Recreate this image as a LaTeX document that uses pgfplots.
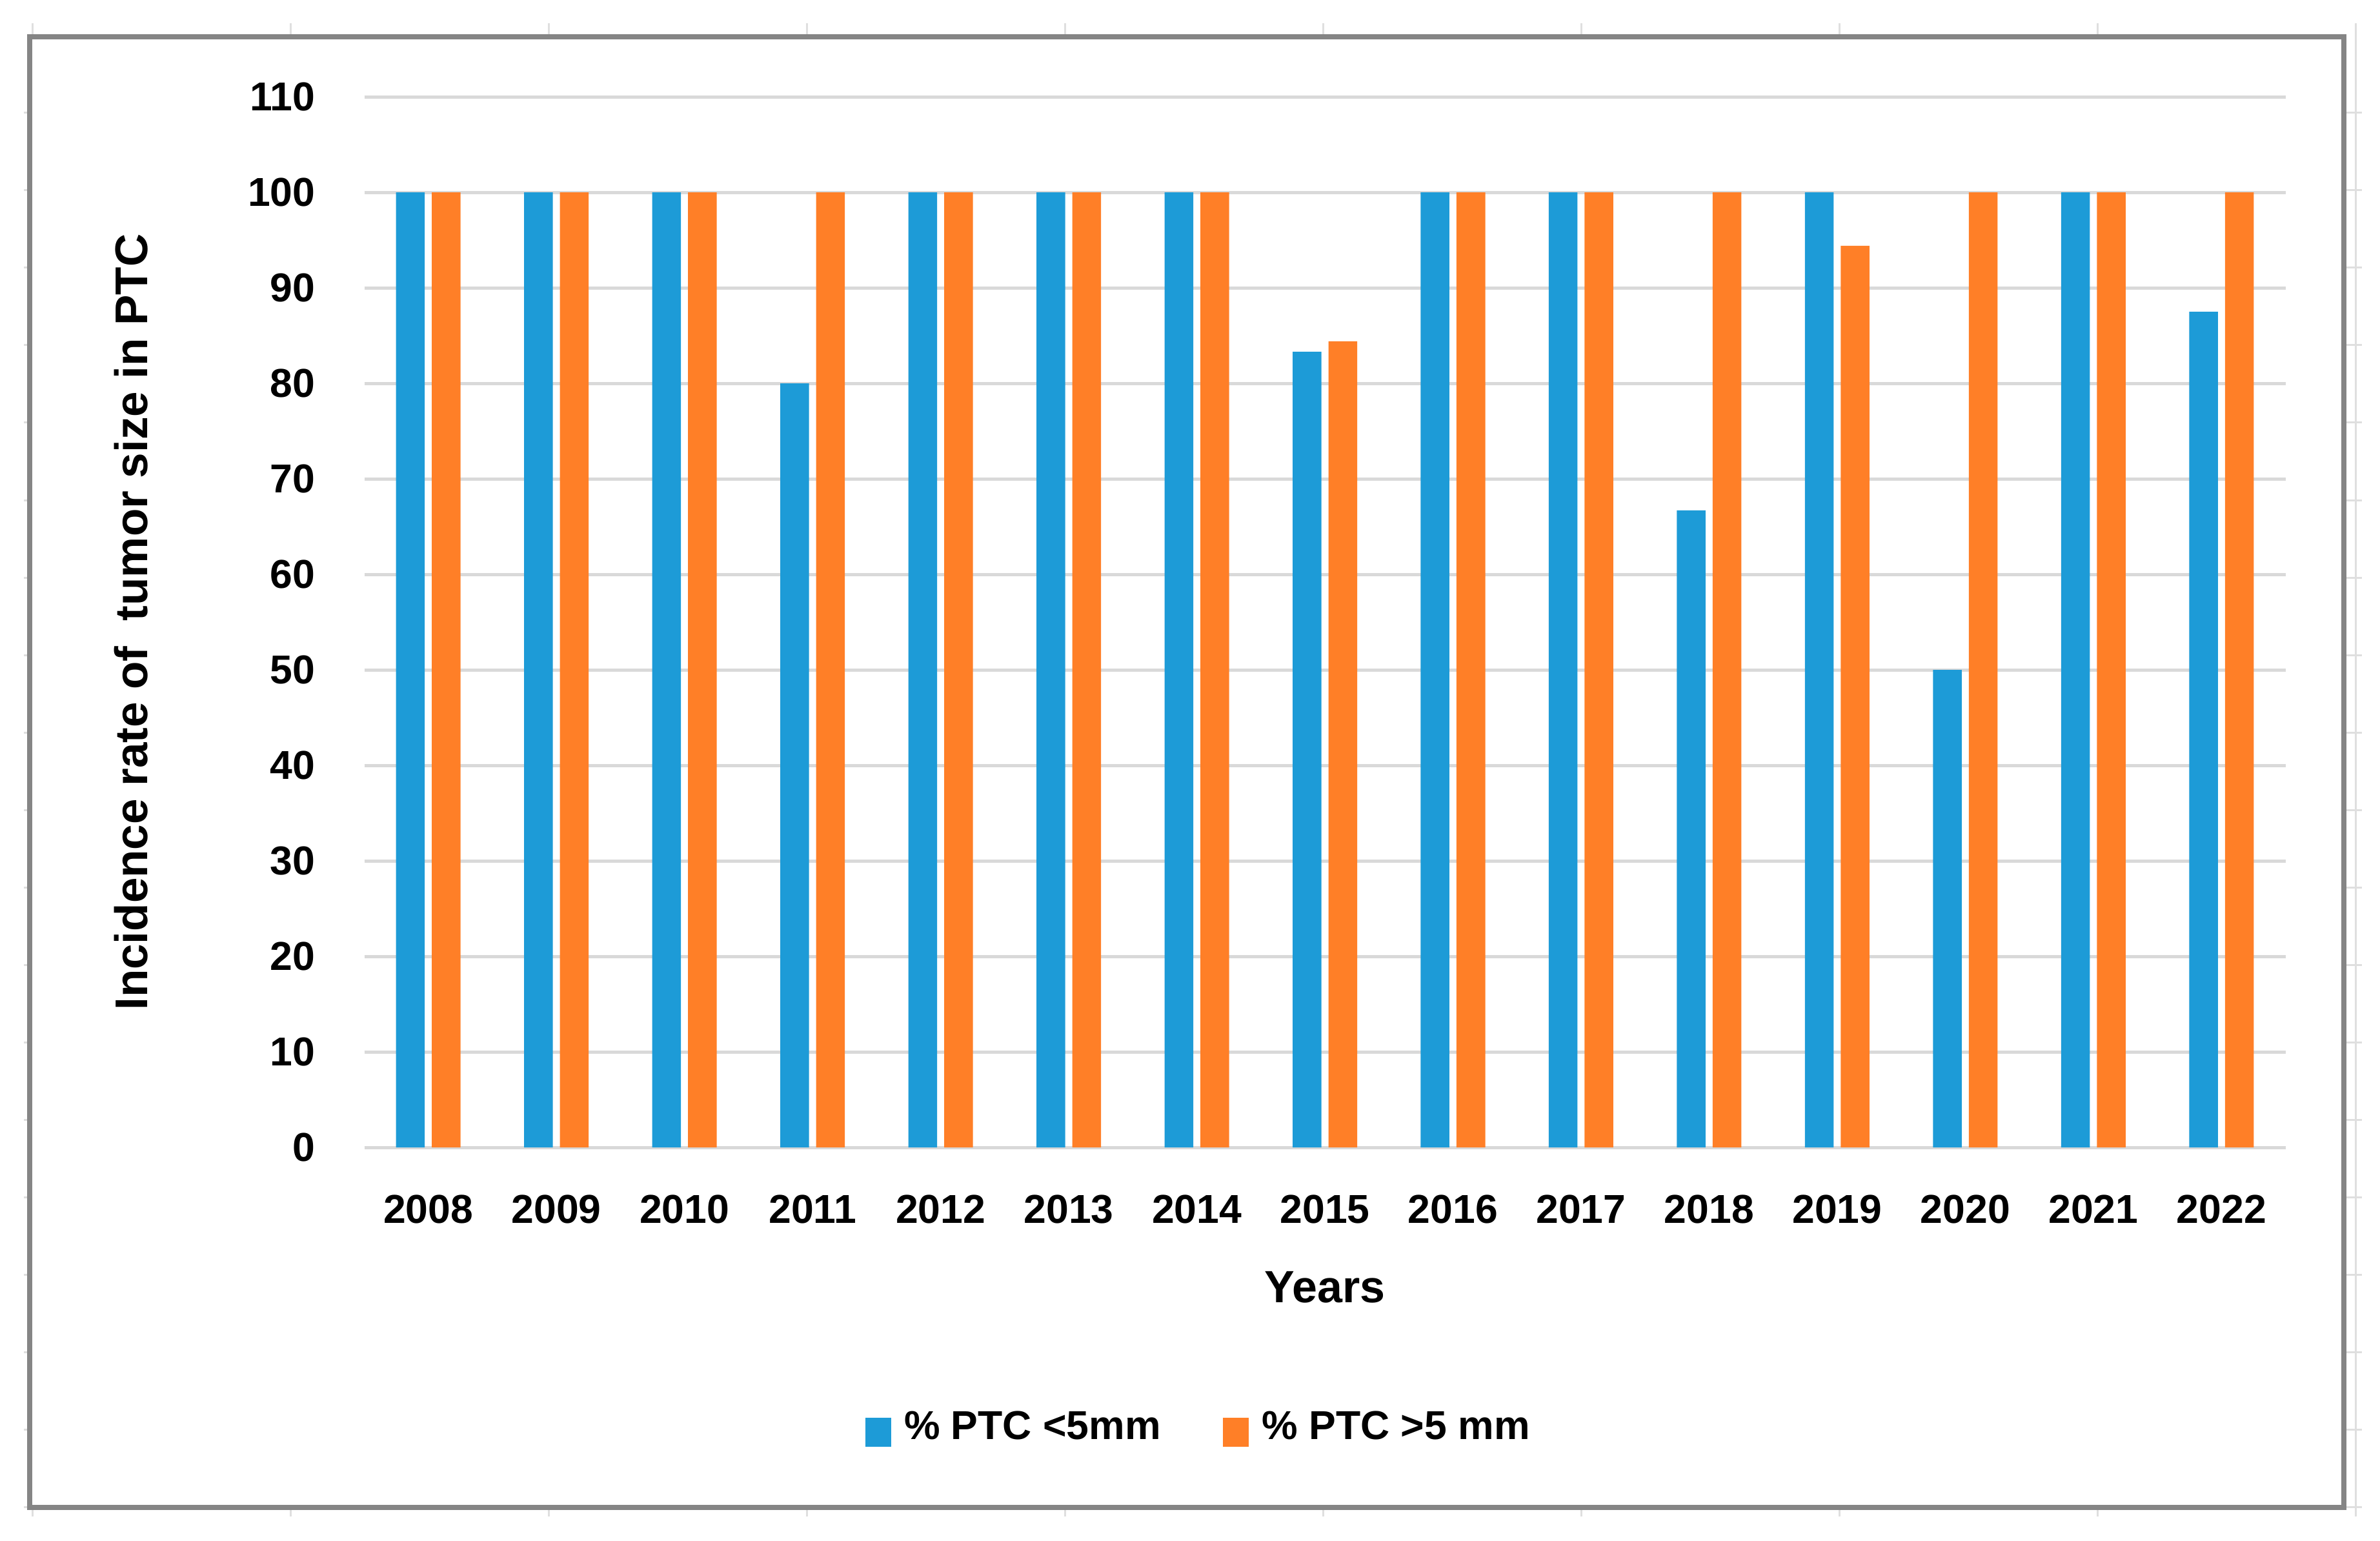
\documentclass[border=0pt]{standalone}
\usepackage{fontspec}
\setmainfont{Liberation Sans}
\usepackage{pgfplots}
\pgfplotsset{compat=1.18}

\definecolor{barblue}{HTML}{1D9BD7}
\definecolor{barorange}{HTML}{FF7F27}
\definecolor{gridgray}{HTML}{D9D9D9}
\definecolor{framegray}{HTML}{858585}

\begin{document}
\begin{tikzpicture}[x=1pt,y=1pt]
\path[use as bounding box] (0,0) rectangle (737.6,477.4);

% faint sheet cell lines around the frame
\foreach \i in {0,...,9} {
  \draw[gray!25, line width=0.6pt] ({10+80*\i},466.6) -- ({10+80*\i},470.2);
  \draw[gray!25, line width=0.6pt] ({10+80*\i},7.4) -- ({10+80*\i},9.4);
}
\foreach \k in {0,...,18} {
  \draw[gray!25, line width=0.6pt] (726.8,{442.4-24*\k}) -- (732,{442.4-24*\k});
  \draw[gray!25, line width=0.6pt] (7.4,{442.4-24*\k}) -- (8.8,{442.4-24*\k});
}
\draw[gray!25, line width=0.6pt] (730,7.8) -- (730,470.2);

% chart frame
\draw[framegray, line width=1.6pt] (9.2,10.2) rectangle (726.4,466);

\begin{axis}[
    at={(112.9pt,121.8pt)}, anchor=south west,
    scale only axis,
    width=595.4pt, height=325.6pt,
    ybar, bar width=8.9pt,
    xmin=-0.5, xmax=14.5,
    ymin=0, ymax=110,
    xtick=data,
    xticklabels={2008,2009,2010,2011,2012,2013,2014,2015,2016,2017,2018,2019,2020,2021,2022},
    ytick={0,10,...,110},
    ymajorgrids,
    grid style={gridgray, line width=1pt},
    axis line style={draw=none},
    major tick length=0pt,
    /pgf/number format/assume math mode=true,
    ticklabel style={font=\fontsize{12.5}{15}\selectfont\bfseries, inner sep=0pt},
    xticklabel style={anchor=center, yshift=-19.1pt},
    yticklabel style={anchor=east, xshift=-15pt},
    xlabel={Years},
    xlabel style={at={(axis description cs:0.5,-0.133)}, anchor=center,
        font=\fontsize{14}{16}\selectfont\bfseries, inner sep=0pt},
    ylabel={Incidence rate of\ \ tumor size in PTC},
    ylabel style={at={(axis description cs:-0.1214,0.5)}, anchor=center,
        font=\fontsize{14.2}{16}\selectfont\bfseries, inner sep=0pt},
    legend columns=2,
    legend style={at={(axis description cs:0.4337,-0.268)}, anchor=center,
        draw=none, fill=none, inner sep=0pt,
        font=\fontsize{12.5}{15}\selectfont\bfseries,
        nodes={inner sep=0pt},
        /tikz/every odd column/.append style={column sep=4.1pt},
        /tikz/every even column/.append style={column sep=19.3pt}},
    legend image code/.code={\fill[#1] (0pt,-6pt) rectangle (8pt,3pt);},
]

% % PTC <5mm
\addplot[fill=barblue, draw=none, bar shift=-5.55pt] coordinates {
    (0,100) (1,100) (2,100) (3,80) (4,100) (5,100) (6,100) (7,83.3)
    (8,100) (9,100) (10,66.7) (11,100) (12,50) (13,100) (14,87.5)
};
\addlegendentry{\% PTC <5mm}

% % PTC >5 mm
\addplot[fill=barorange, draw=none, bar shift=5.55pt] coordinates {
    (0,100) (1,100) (2,100) (3,100) (4,100) (5,100) (6,100) (7,84.4)
    (8,100) (9,100) (10,100) (11,94.4) (12,100) (13,100) (14,100)
};
\addlegendentry{\% PTC >5 mm}

\end{axis}
\end{tikzpicture}
\end{document}
